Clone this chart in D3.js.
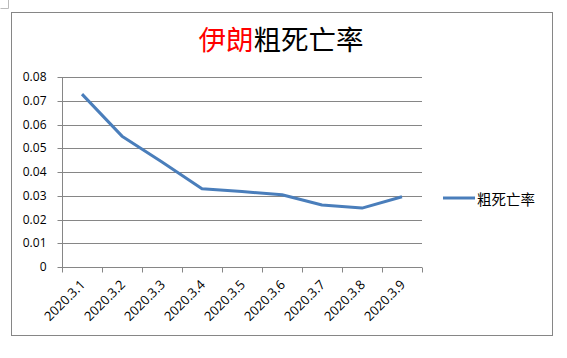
<!DOCTYPE html>
<html><head><meta charset="utf-8">
<script src="https://cdn.jsdelivr.net/npm/d3@7"></script>
<style>body{margin:0;background:#fff}svg{display:block}</style>
</head><body>
<svg id="c" width="567" height="358"></svg>
<script>
const categories = ["2020.3.1","2020.3.2","2020.3.3","2020.3.4","2020.3.5","2020.3.6","2020.3.7","2020.3.8","2020.3.9"];
const seriesName = "粗死亡率";
const values = [0.0728, 0.0551, 0.0442, 0.0329, 0.0318, 0.0304, 0.0261, 0.0248, 0.0296];
const yTicks = [0, 0.01, 0.02, 0.03, 0.04, 0.05, 0.06, 0.07, 0.08];
const yTickLabels = ["0","0.01","0.02","0.03","0.04","0.05","0.06","0.07","0.08"];
const titleRed = "伊朗";
const titleBlack = "粗死亡率";

const svg = d3.select("#c");
const gray = "#868686";
const blue = "#4a7ebb";

// corner mark
svg.append("path").attr("d","M0.5,8.5 H8.5 V0").attr("fill","none").attr("stroke","#bbb").attr("stroke-width",1);
// chart border
svg.append("rect").attr("x",11.5).attr("y",12.5).attr("width",541).attr("height",323)
  .attr("fill","#fff").attr("stroke",gray).attr("stroke-width",1);

const x = d3.scaleBand().domain(categories).range([62, 422]).padding(0);
const y = d3.scaleLinear().domain([0, 0.08]).range([267, 77]);

// gridlines
svg.append("g").selectAll("line").data(yTicks.slice(1)).join("line")
  .attr("x1", 62).attr("x2", 422)
  .attr("y1", d => Math.round(y(d)) + 0.5).attr("y2", d => Math.round(y(d)) + 0.5)
  .attr("stroke", gray).attr("stroke-width", 1);

// y axis
const ya = svg.append("g").attr("transform","translate(62.5,0.5)")
  .call(d3.axisLeft(y).tickValues(yTicks).tickFormat((d,i)=>yTickLabels[i]).tickSize(5).tickPadding(11));
ya.select(".domain").attr("stroke", gray).attr("d", `M0,${y(0)}V${y(0.08)}`);
ya.selectAll(".tick line").attr("stroke", gray);
ya.selectAll("text").attr("font-family","'Open Sans', 'Liberation Sans', sans-serif").attr("font-size","12px").attr("fill","#000");
ya.selectAll(".tick").attr("transform", d => `translate(0,${Math.round(y(d))})`);

// x axis
const xa = svg.append("g").attr("transform",`translate(0,${Math.round(y(0))+0.5})`);
xa.append("line").attr("x1",62).attr("x2",422).attr("stroke",gray);
const bounds = categories.map(c => x(c)).concat([x(categories[categories.length-1]) + x.bandwidth()]);
xa.selectAll("line.t").data(bounds).join("line").attr("class","t")
  .attr("x1", d => Math.round(d)+0.5).attr("x2", d => Math.round(d)+0.5)
  .attr("y1", 0).attr("y2", 5).attr("stroke", gray);
xa.selectAll("text").data(categories).join("text")
  .attr("transform", d => `translate(${x(d) + x.bandwidth()/2 + 4},${18}) rotate(-45)`)
  .attr("text-anchor","end")
  .attr("font-family","'Open Sans', 'Liberation Sans', sans-serif").attr("font-size","13px").attr("fill","#000")
  .text(d => d);

// line
const line = d3.line().x((d,i) => x(categories[i]) + x.bandwidth()/2).y(d => y(d));
svg.append("path").datum(values).attr("d", line)
  .attr("fill","none").attr("stroke", blue).attr("stroke-width", 3).attr("stroke-linejoin","round");

// title
const t = svg.append("text").attr("x", 281).attr("y", 50).attr("text-anchor","middle")
  .attr("font-family","'Noto Sans CJK SC', sans-serif").attr("font-size","27.5px");
t.append("tspan").attr("fill","#ff0000").text(titleRed);
t.append("tspan").attr("fill","#000").text(titleBlack);

// legend
svg.append("line").attr("x1",443).attr("x2",475).attr("y1",198).attr("y2",198).attr("stroke",blue).attr("stroke-width",3);
svg.append("text").attr("x",477).attr("y",201).attr("dominant-baseline","middle")
  .attr("font-family","'Noto Sans CJK SC', sans-serif").attr("font-size","14.5px").attr("fill","#000").text(seriesName);
</script>
</body></html>
